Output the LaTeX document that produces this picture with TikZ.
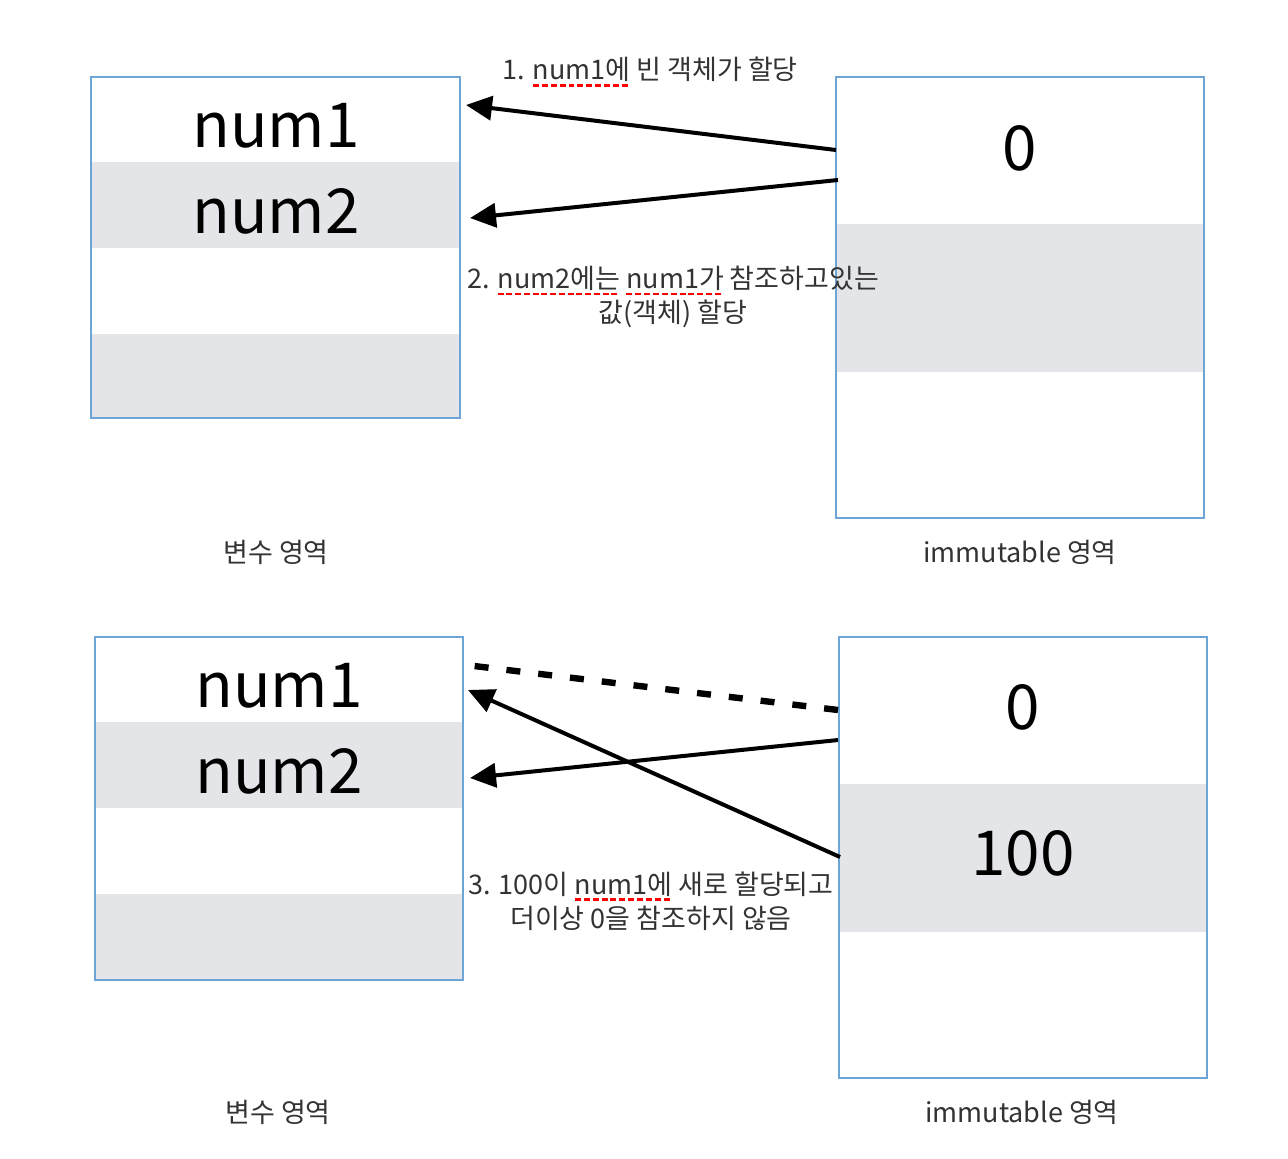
\documentclass[tikz,border=0pt]{standalone}
\usepackage{fontspec}
\setmainfont{Noto Sans CJK KR}
\usetikzlibrary{arrows.meta}

\definecolor{boxblue}{RGB}{110,165,215}
\definecolor{rowgray}{RGB}{228,229,232}
\definecolor{txtgray}{RGB}{51,51,51}

% spell-check underline
\newsavebox\spellbox
\newcommand\spellmark[1]{\sbox\spellbox{#1}%
  \rlap{\textcolor{red}{\raisebox{-0.45ex}{\hbox to \wd\spellbox{\xleaders\hbox{\rule{0.22em}{0.16ex}\kern0.1em}\hfill}}}}%
  \usebox\spellbox}

\tikzset{
  frame/.style={draw=boxblue,line width=1pt},
  band/.style={fill=rowgray},
  var/.style={font=\fontsize{31}{34}\selectfont},
  area/.style={text=txtgray,font=\fontsize{13.5}{16}\selectfont},
  note/.style={text=txtgray,align=center,font=\fontsize{13.5}{17}\selectfont},
  ref/.style={line width=2pt,-{Triangle[length=13pt,width=12pt]}},
}

\begin{document}
\begin{tikzpicture}[x=0.5pt,y=-0.5pt]
  \useasboundingbox (0,0) rectangle (1288,1158);
  % Top part of the Figure
  \fill[band] (91,162) rectangle (460,248);
  \fill[band] (91,334) rectangle (460,418);
  \draw[frame] (91,77) rectangle (460,418);
  \node[var]  (A1)  at (276,126) {num1};
  \node[var]  (A2)  at (276,211) {num2};
  \fill[band] (836,224) rectangle (1204,372);
  \draw[frame] (836,77) rectangle (1204,518);
  \node[var]  (Z)   at (1020,148) {0};
  \node[area] (VA)  at (276,552) {변수 영역};
  \node[area] (IA)  at (1020,552) {immutable 영역};
  \coordinate (z1) at (836,150); \coordinate (a1) at (466,105);
  \coordinate (z2) at (838,180); \coordinate (a2) at (470,218);
  \draw[ref] (z1) -- (a1);
  \draw[ref] (z2) -- (a2);
  \node[note] (N1)  at (650,72) {1. \spellmark{num1에} 빈 객체가 할당};
  \node[note] (N2)  at (673,297) {2. \spellmark{num2에는} \spellmark{num1가} 참조하고있는\\값(객체) 할당};
  % Bottom part of the Figure
  \fill[band] (95,722) rectangle (463,808);
  \fill[band] (95,894) rectangle (463,980);
  \draw[frame] (95,637) rectangle (463,980);
  \node[var]  (B1)  at (279,686) {num1};
  \node[var]  (B2)  at (279,771) {num2};
  \fill[band] (839,784) rectangle (1207,932);
  \draw[frame] (839,637) rectangle (1207,1078);
  \node[var]  (Y)   at (1023,707) {0};
  \node[var]  (H)   at (1023,853) {100};
  \node[area] (VB)  at (278,1112) {변수 영역};
  \node[area] (IB)  at (1022,1112) {immutable 영역};
  \coordinate (y1) at (838,710); \coordinate (b0) at (466,665);
  \coordinate (y2) at (838,740); \coordinate (b2) at (470,778);
  \coordinate (h1) at (840,857); \coordinate (b1) at (468,690);
  \draw[line width=3.2pt,dash pattern=on 7pt off 9pt] (y1) -- (b0);
  \draw[ref] (y2) -- (b2);
  \draw[ref] (h1) -- (b1);
  \node[note] (N3)  at (651,901) {3. 100이 \spellmark{num1에} 새로 할당되고\\더이상 0을 참조하지 않음};
\end{tikzpicture}
\end{document}
